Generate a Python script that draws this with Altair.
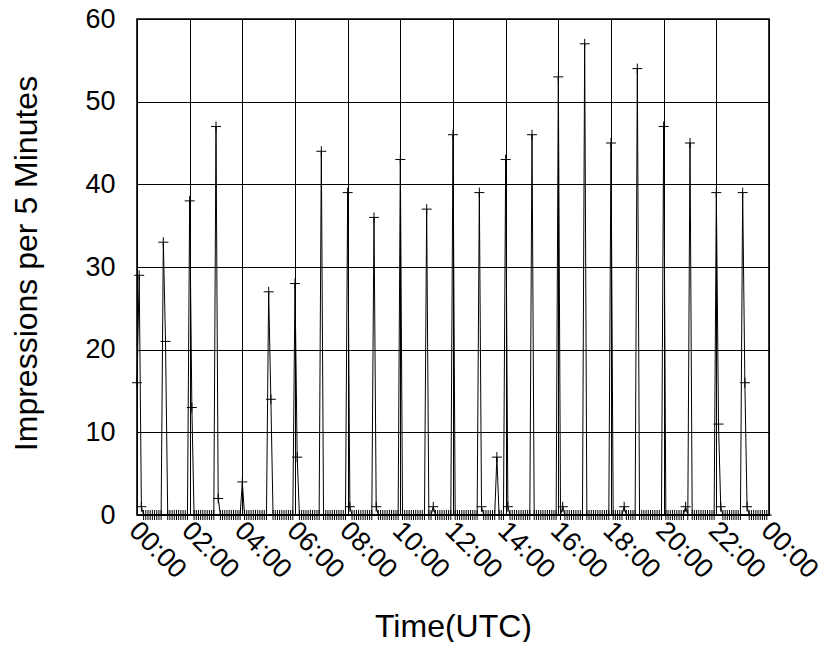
import altair as alt
import pandas as pd

# Impressions per 5-minute bin, one list per hour (12 bins each, :00 .. :55)
h00 = [16, 29, 1, 0, 0, 0, 0, 0, 0, 0, 0, 0]
h01 = [33, 21, 0, 0, 0, 0, 0, 0, 0, 0, 0, 0]
h02 = [38, 13, 0, 0, 0, 0, 0, 0, 0, 0, 0, 0]
h03 = [47, 2, 0, 0, 0, 0, 0, 0, 0, 0, 0, 0]
h04 = [4, 0, 0, 0, 0, 0, 0, 0, 0, 0, 0, 0]
h05 = [27, 14, 0, 0, 0, 0, 0, 0, 0, 0, 0, 0]
h06 = [28, 7, 0, 0, 0, 0, 0, 0, 0, 0, 0, 0]
h07 = [44, 0, 0, 0, 0, 0, 0, 0, 0, 0, 0, 0]
h08 = [39, 1, 0, 0, 0, 0, 0, 0, 0, 0, 0, 0]
h09 = [36, 1, 0, 0, 0, 0, 0, 0, 0, 0, 0, 0]
h10 = [43, 0, 0, 0, 0, 0, 0, 0, 0, 0, 0, 0]
h11 = [37, 0, 0, 1, 0, 0, 0, 0, 0, 0, 0, 0]
h12 = [46, 0, 0, 0, 0, 0, 0, 0, 0, 0, 0, 0]
h13 = [39, 1, 0, 0, 0, 0, 0, 0, 7, 0, 0, 0]
h14 = [43, 1, 0, 0, 0, 0, 0, 0, 0, 0, 0, 0]
h15 = [46, 0, 0, 0, 0, 0, 0, 0, 0, 0, 0, 0]
h16 = [53, 0, 1, 0, 0, 0, 0, 0, 0, 0, 0, 0]
h17 = [57, 0, 0, 0, 0, 0, 0, 0, 0, 0, 0, 0]
h18 = [45, 0, 0, 0, 0, 0, 1, 0, 0, 0, 0, 0]
h19 = [54, 0, 0, 0, 0, 0, 0, 0, 0, 0, 0, 0]
h20 = [47, 0, 0, 0, 0, 0, 0, 0, 0, 0, 1, 0]
h21 = [45, 0, 0, 0, 0, 0, 0, 0, 0, 0, 0, 0]
h22 = [39, 11, 1, 0, 0, 0, 0, 0, 0, 0, 0, 0]
h23 = [39, 16, 1, 0, 0, 0, 0, 0, 0, 0, 0, 0]

hour_lists = [h00, h01, h02, h03, h04, h05, h06, h07, h08, h09, h10, h11,
              h12, h13, h14, h15, h16, h17, h18, h19, h20, h21, h22, h23]

x_tick_values = [0, 2, 4, 6, 8, 10, 12, 14, 16, 18, 20, 22, 24]
y_tick_values = [0, 10, 20, 30, 40, 50, 60]

rows = []
for h, lst in enumerate(hour_lists):
    for k, v in enumerate(lst):
        rows.append({"hour": h + k * 5 / 60.0, "value": v})
df = pd.DataFrame(rows)

FONT = "Liberation Sans"
LABEL_FS = 27
TITLE_FS = 32

x_enc = alt.X(
    "hour:Q",
    scale=alt.Scale(domain=[0, 24], nice=False, zero=False),
    axis=alt.Axis(
        values=x_tick_values,
        labelExpr="(datum.value % 24 < 10 ? '0' : '') + (datum.value % 24) + ':00'",
        labelAngle=45,
        labelAlign="left",
        labelBaseline="middle",
        labelPadding=11,
        labelOffset=-4,
        title="Time(UTC)",
        titleY=121,
        titleBaseline="alphabetic",
    ),
)
y_enc = alt.Y(
    "value:Q",
    scale=alt.Scale(domain=[0, 60], nice=False),
    axis=alt.Axis(
        values=y_tick_values,
        labelPadding=22,
        title="Impressions per 5 Minutes",
        titleX=-111,
        titleY=244,
        titleAngle=-90,
        titleAlign="center",
        titleBaseline="middle",
    ),
)

base = alt.Chart(df)
line = base.mark_line(color="black", strokeWidth=1).encode(x=x_enc, y=y_enc)
pts = base.mark_point(
    shape="M-1,0L1,0M0,-1L0,1",
    filled=False,
    color="black",
    size=100,
    strokeWidth=1,
    opacity=1,
).encode(x="hour:Q", y="value:Q")

chart = (
    alt.layer(line, pts)
    .properties(
        width=632,
        height=496,
        autosize="none",
        padding={"left": 129, "top": 11, "right": 55, "bottom": 127},
        background="white",
    )
    .configure_view(stroke="black", strokeWidth=1.6)
    .configure_axis(
        domain=False,
        ticks=False,
        grid=True,
        gridColor="black",
        gridOpacity=1,
        gridWidth=1,
        labelFont=FONT,
        labelFontSize=LABEL_FS,
        labelColor="black",
        titleFont=FONT,
        titleFontSize=TITLE_FS,
        titleFontWeight="normal",
        titleColor="black",
        labelOverlap=False,
    )
)

chart.save("out.html", embed_options={"renderer": "svg", "actions": False})
